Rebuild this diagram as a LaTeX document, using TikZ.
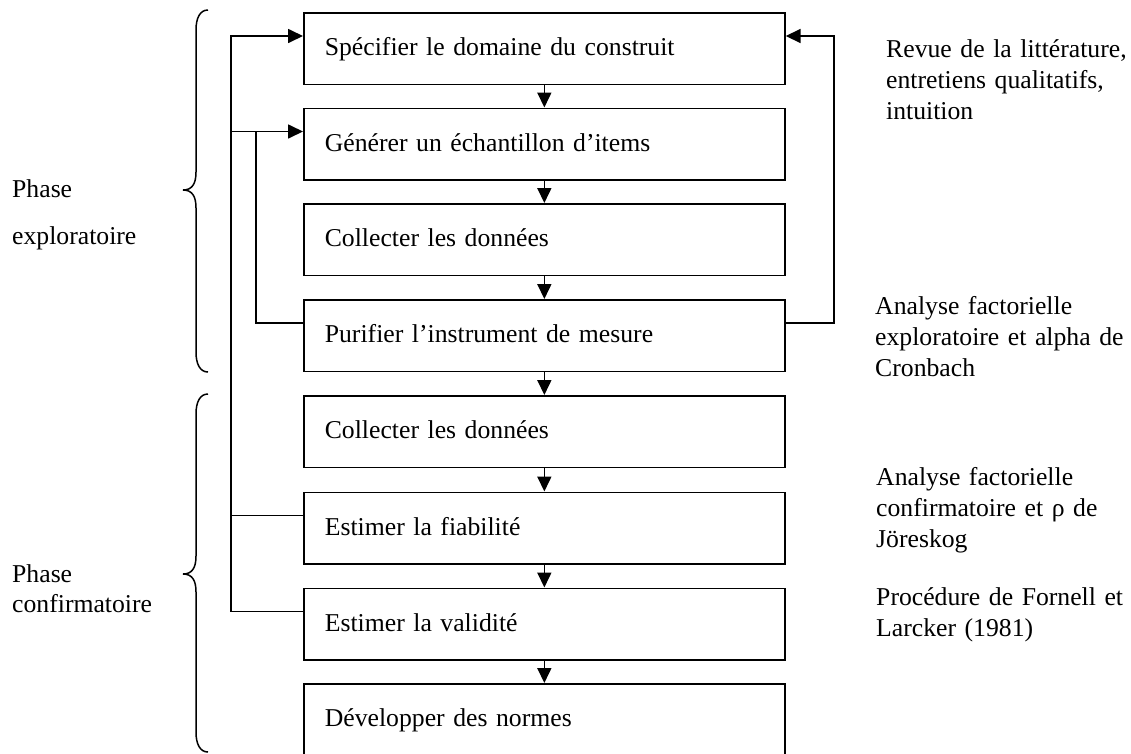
\documentclass[tikz,border=0pt]{standalone}
\usepackage{fontspec}
\setmainfont{Liberation Serif}
\usetikzlibrary{arrows.meta}
\tikzset{
  txt/.style={font=\fontsize{25.7pt}{31pt}\selectfont, inner sep=0pt},
  stepbox/.style={draw, line width=1.7pt, txt, minimum width=481pt, minimum height=71.5pt,
    text width=439pt, inner xsep=21pt, inner ysep=0pt, align=left,
    text height=20pt, text depth=5.5pt, anchor=north west},
  link/.style={line width=1.7pt},
  arr/.style={link, -{Triangle[length=15pt,width=14pt]}},
  brace/.style={line width=1.5pt},
  note/.style={txt, anchor=base west, text width=260pt, align=left},
}
\begin{document}
\begin{tikzpicture}[x=1pt,y=-1pt]
\useasboundingbox (0,0) rectangle (1131,753);
% boxes
\node[stepbox] (b1) at (303,12) {Spécifier le domaine du construit};
\node[stepbox] (b2) at (303,107.5) {Générer un échantillon d’items};
\node[stepbox] (b3) at (303,203) {Collecter les données};
\node[stepbox] (b4) at (303,299) {Purifier l’instrument de mesure};
\node[stepbox] (b5) at (303,395) {Collecter les données};
\node[stepbox] (b6) at (303,491.5) {Estimer la fiabilité};
\node[stepbox] (b7) at (303,587.5) {Estimer la validité};
\node[stepbox] (b8) at (303,683) {Développer des normes};
% down arrows
\draw[arr] (b1) -- (b2);
\draw[arr] (b2) -- (b3);
\draw[arr] (b3) -- (b4);
\draw[arr] (b4) -- (b5);
\draw[arr] (b5) -- (b6);
\draw[arr] (b6) -- (b7);
\draw[arr] (b7) -- (b8);
% left feedback
\draw[arr] ([yshift=-24pt]b7.north west) -- ++(-72,0) |- ([yshift=-24pt]b1.north west);
\draw[link] ([yshift=-24pt]b6.north west) -- ++(-72,0);
\draw[arr] ([yshift=-24pt,xshift=-72pt]b2.north west) -- ([yshift=-24pt]b2.north west);
\draw[link] ([yshift=-24pt]b4.north west) -- ++(-47,0) |- ([yshift=-24pt,xshift=-47pt]b2.north west);
% right feedback
\draw[arr] ([yshift=-24pt]b4.north east) -- ++(48,0) |- ([yshift=-24pt]b1.north east);
% braces
\draw[brace] (208,10) .. controls (200,10) and (196,18) .. (196,30) -- (196,172)
  .. controls (196,184) and (192,190) .. (183,190)
  .. controls (192,190) and (196,196) .. (196,208) -- (196,352)
  .. controls (196,364) and (200,372) .. (208,372);
\draw[brace] (208,394) .. controls (200,394) and (196,402) .. (196,414) -- (196,556)
  .. controls (196,568) and (192,574) .. (183,574)
  .. controls (192,574) and (196,580) .. (196,592) -- (196,732)
  .. controls (196,744) and (200,752) .. (208,752);
% phase labels
\node[txt, anchor=base west] (p1a) at (12,197) {Phase};
\node[txt, anchor=base west] (p1b) at (12,244) {exploratoire};
\node[txt, anchor=base west] (p2a) at (12,582) {Phase};
\node[txt, anchor=base west] (p2b) at (12,612) {confirmatoire};
% notes
\node[note] (n1) at (886,57) {Revue de la littérature,\\entretiens qualitatifs,\\intuition};
\node[note] (n2) at (875,314) {Analyse factorielle\\exploratoire et alpha de\\Cronbach};
\node[note] (n3) at (876,485) {Analyse factorielle\\confirmatoire et ρ de\\Jöreskog};
\node[note] (n4) at (876,605) {Procédure de Fornell et\\Larcker (1981)};
\end{tikzpicture}
\end{document}
